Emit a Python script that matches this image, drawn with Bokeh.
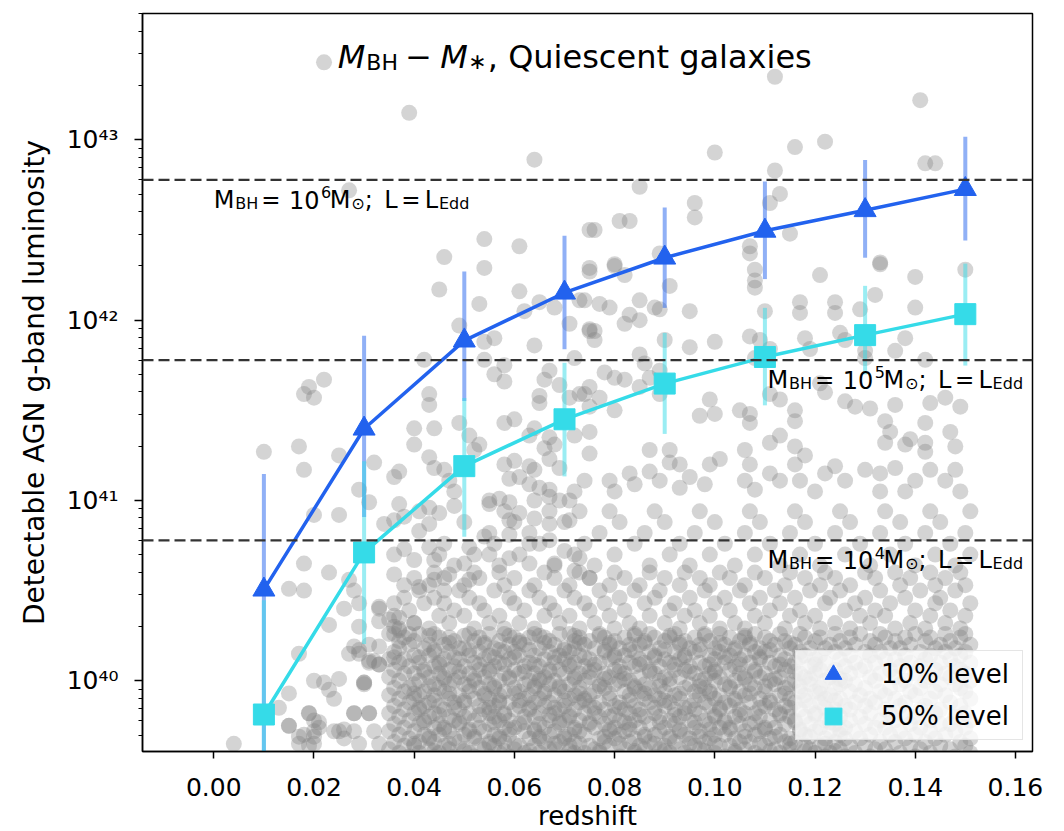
import numpy as np
from bokeh.plotting import figure
from bokeh.models import (Range1d, FixedTicker, NumeralTickFormatter, Span, Label,
                          Legend, LegendItem, ColumnDataSource)
from bokeh.embed import file_html
from bokeh.resources import INLINE

FONT = "DejaVu Sans"

# ---------------- data ----------------
redshift_bins = [0.01, 0.03, 0.05, 0.07, 0.09, 0.11, 0.13, 0.15]
lum10 = [3.2e40, 2.5e41, 7.7e41, 1.42e42, 2.22e42, 3.13e42, 4.07e42, 5.33e42]
lum10_lo = [2.0e39, 8.1e40, 3.56e41, 6.9e41, 1.17e42, 1.69e42, 2.22e42, 2.77e42]
lum10_hi = [1.40e41, 8.2e41, 1.86e42, 2.94e42, 4.22e42, 5.87e42, 7.73e42, 1.04e43]
lum50 = [6.5e39, 5.15e40, 1.55e41, 2.82e41, 4.45e41, 6.25e41, 8.26e41, 1.08e42]
lum50_lo = [2.0e39, 1.6e40, 6.3e40, 1.36e41, 2.34e41, 3.37e41, 5.0e41, 5.6e41]
lum50_hi = [2.8e40, 1.65e41, 3.7e41, 5.8e41, 8.5e41, 1.17e42, 1.55e42, 2.06e42]
edd_lum = [6e42, 6e41, 6e40]
edd_mass_exp = ["6", "5", "4"]
x_ticks = [0.00, 0.02, 0.04, 0.06, 0.08, 0.10, 0.12, 0.14, 0.16]
y_ticks = [1e40, 1e41, 1e42, 1e43]
y_tick_labels = ["10⁴⁰", "10⁴¹", "10⁴²", "10⁴³"]

# galaxies read individually (redshift, log10 L)
sparse_pts = [
    (0.022, 43.43), (0.039, 43.15), (0.064, 42.89), (0.027, 42.72), (0.054, 42.45), (0.061, 42.41),
    (0.046, 42.35), (0.075, 42.50), (0.112, 43.35), (0.141, 43.22), (0.100, 42.93), (0.116, 42.96),
    (0.122, 42.99), (0.112, 42.83), (0.142, 42.87), (0.144, 42.87), (0.085, 42.74), (0.076, 42.50),
    (0.081, 42.55), (0.083, 42.55), (0.096, 42.65), (0.096, 42.57), (0.111, 42.65), (0.113, 42.70),
    (0.115, 42.48), (0.107, 42.41), (0.089, 42.37), (0.080, 42.31), (0.133, 42.32),
    (0.054, 42.29), (0.045, 42.17), (0.061, 42.16), (0.053, 42.09), (0.062, 42.05), (0.065, 42.10),
    (0.068, 42.07), (0.073, 42.11), (0.071, 41.98), (0.075, 41.94), (0.075, 42.27), (0.049, 41.97),
    (0.056, 41.90), (0.054, 41.88), (0.064, 41.86), (0.042, 41.78), (0.054, 41.78), (0.058, 41.75),
    (0.056, 41.70), (0.058, 41.66), (0.067, 41.72), (0.066, 41.67), (0.069, 41.64), (0.072, 41.79),
    (0.065, 41.58), (0.065, 41.54), (0.071, 41.57), (0.073, 41.59), (0.022, 41.67), (0.019, 41.63),
    (0.018, 41.59), (0.020, 41.57), (0.043, 41.59), (0.043, 41.53), (0.040, 41.40), (0.044, 41.40),
    (0.049, 41.43), (0.051, 41.36), (0.053, 41.31), (0.052, 41.28), (0.040, 41.31), (0.058, 41.43),
    (0.060, 41.45), (0.064, 41.40), (0.063, 41.36), (0.067, 41.35), (0.066, 41.29), (0.068, 41.31),
    (0.072, 41.36), (0.075, 41.38), (0.067, 41.23), (0.069, 41.18), (0.058, 41.20), (0.060, 41.22),
    (0.063, 41.19), (0.064, 41.17), (0.059, 41.12), (0.061, 41.13), (0.063, 41.09), (0.065, 41.07),
    (0.067, 41.06), (0.074, 41.11), (0.072, 41.05), (0.032, 41.21), (0.025, 41.25), (0.017, 41.30),
    (0.018, 41.17), (0.010, 41.27), (0.029, 41.06), (0.036, 41.13), (0.037, 41.16), (0.043, 41.24),
    (0.044, 41.18), (0.046, 41.17), (0.047, 41.11), (0.048, 41.05), (0.055, 41.00), (0.057, 41.01),
    (0.069, 41.00),
    (0.075, 42.29), (0.080, 42.30), (0.082, 42.25), (0.074, 42.11), (0.077, 42.09), (0.079, 42.07),
    (0.085, 42.11), (0.088, 42.07), (0.089, 42.06), (0.083, 42.03), (0.085, 42.00), (0.082, 41.98),
    (0.075, 41.95), (0.076, 41.89), (0.076, 41.94), (0.091, 42.19), (0.095, 42.05), (0.108, 42.28),
    (0.108, 42.22), (0.108, 42.18), (0.107, 42.37), (0.121, 42.25), (0.133, 42.31), (0.140, 42.24),
    (0.110, 42.05), (0.117, 42.10), (0.117, 42.04), (0.124, 42.10), (0.124, 42.04), (0.132, 42.14),
    (0.129, 42.06), (0.140, 42.07), (0.150, 42.28), (0.090, 41.89), (0.095, 41.85), (0.100, 41.88),
    (0.107, 41.91), (0.109, 41.89), (0.111, 41.84), (0.108, 41.79), (0.118, 41.90), (0.119, 41.84),
    (0.125, 41.93), (0.126, 41.89), (0.130, 41.83), (0.130, 41.79), (0.138, 41.90), (0.136, 41.83),
    (0.142, 41.78), (0.085, 41.81), (0.086, 41.76), (0.089, 41.72), (0.087, 41.68), (0.085, 41.63),
    (0.089, 41.59), (0.078, 41.71), (0.080, 41.68), (0.082, 41.67), (0.075, 41.63), (0.074, 41.59),
    (0.077, 41.57), (0.075, 41.52), (0.080, 41.50), (0.099, 41.56), (0.105, 41.50), (0.097, 41.47),
    (0.100, 41.48), (0.107, 41.48), (0.107, 41.43), (0.111, 41.59), (0.113, 41.56), (0.116, 41.50),
    (0.116, 41.44), (0.111, 41.32), (0.113, 41.36), (0.116, 41.30), (0.121, 41.65), (0.122, 41.60),
    (0.126, 41.55), (0.128, 41.52), (0.131, 41.51), (0.136, 41.53), (0.134, 41.44), (0.135, 41.38),
    (0.134, 41.32), (0.138, 41.31), (0.139, 41.34), (0.143, 41.54), (0.146, 41.57), (0.149, 41.52),
    (0.142, 41.43), (0.147, 41.38), (0.142, 41.32), (0.148, 41.30), (0.142, 41.27), (0.087, 41.28),
    (0.091, 41.28), (0.091, 41.21), (0.093, 41.20), (0.075, 41.26), (0.079, 41.11), (0.083, 41.15),
    (0.080, 41.05), (0.084, 41.09), (0.087, 41.16), (0.089, 41.11), (0.093, 41.07), (0.095, 41.13),
    (0.098, 41.09), (0.099, 41.20), (0.101, 41.23), (0.106, 41.28), (0.107, 41.20), (0.106, 41.11),
    (0.108, 41.06), (0.111, 41.15), (0.113, 41.11), (0.116, 41.20), (0.118, 41.25), (0.117, 41.11),
    (0.122, 41.15), (0.120, 41.05), (0.124, 41.19), (0.126, 41.11), (0.130, 41.17), (0.133, 41.15),
    (0.136, 41.18), (0.133, 41.05), (0.138, 41.05), (0.140, 41.11), (0.143, 41.17), (0.146, 41.11),
    (0.148, 41.17), (0.149, 41.05),
    (0.004, 39.65), (0.018, 40.65), (0.015, 40.51), (0.018, 40.50), (0.023, 40.60), (0.020, 40.92),
    (0.025, 40.92), (0.027, 40.56), (0.028, 40.50), (0.029, 40.43), (0.026, 40.40), (0.023, 40.31),
    (0.029, 40.30), (0.017, 40.15), (0.020, 40.00), (0.022, 39.99), (0.023, 39.95), (0.024, 39.90),
    (0.015, 39.93), (0.013, 39.85), (0.015, 39.75), (0.019, 39.82), (0.020, 39.78), (0.021, 39.74),
    (0.018, 39.70), (0.020, 39.65), (0.017, 39.65), (0.024, 39.72), (0.026, 39.68), (0.028, 39.82),
    (0.031, 39.82), (0.028, 39.72), (0.029, 39.65), (0.032, 39.72), (0.033, 39.65), (0.025, 40.01),
    (0.030, 39.99), (0.033, 40.09), (0.031, 40.10), (0.031, 40.99), (0.027, 40.15), (0.029, 40.17),
    (0.031, 40.20), (0.033, 40.19), (0.032, 40.11), (0.033, 40.41), (0.035, 40.34), (0.036, 40.30),
    (0.037, 40.28), (0.039, 40.26), (0.040, 40.32), (0.034, 40.87), (0.036, 40.89), (0.038, 40.91),
    (0.036, 40.59), (0.038, 40.53), (0.040, 40.57), (0.041, 40.52), (0.036, 40.70), (0.038, 40.73),
    (0.040, 40.67), (0.043, 40.74), (0.044, 40.67), (0.045, 40.70), (0.047, 40.59), (0.044, 40.56),
    (0.046, 40.50), (0.041, 40.83), (0.043, 40.87), (0.045, 40.93), (0.048, 40.97), (0.043, 40.96),
    (0.041, 40.94), (0.037, 40.98), (0.055, 40.98), (0.059, 40.99), (0.061, 40.93), (0.059, 40.89),
    (0.064, 41.00), (0.067, 41.02), (0.071, 41.00), (0.073, 40.94), (0.071, 40.89), (0.067, 40.87),
    (0.064, 40.90), (0.054, 40.80), (0.059, 40.81), (0.063, 40.76), (0.055, 40.70), (0.059, 40.68),
    (0.063, 40.65), (0.067, 40.78), (0.070, 40.72), (0.073, 40.68), (0.068, 40.65), (0.072, 40.61),
    (0.075, 40.57), (0.051, 40.74), (0.050, 40.65), (0.051, 40.56),
    (0.019, 39.64), (0.028, 40.19), (0.029, 40.15), (0.031, 40.11), (0.030, 39.99), (0.028, 39.82),
    (0.031, 39.82), (0.033, 40.40), (0.036, 40.43), (0.037, 40.35), (0.033, 40.33), (0.035, 40.26),
    (0.037, 40.22), (0.033, 40.09), (0.036, 40.13), (0.015, 39.75), (0.019, 39.82), (0.021, 39.77),
    (0.020, 39.72), (0.020, 39.69), (0.017, 39.69), (0.025, 39.72), (0.026, 39.73), (0.030, 39.98),
]

# crowded part of the cloud, estimated row by row: log10 L of each row and its redshifts (x 1/1000)
dense_logL = [40.94, 40.88, 40.82, 40.76, 40.70, 40.64,
              40.60, 40.57, 40.53, 40.50, 40.46, 40.43, 40.39, 40.36, 40.32, 40.29,
              40.26, 40.24, 40.22, 40.20, 40.18, 40.16, 40.14, 40.12, 40.10, 40.08, 40.06, 40.04,
              40.02, 40.00, 39.98, 39.96, 39.94, 39.92, 39.90, 39.88, 39.86, 39.84, 39.82, 39.80,
              39.78, 39.76, 39.74, 39.72, 39.70, 39.68, 39.66, 39.64, 39.62, 39.60, 39.58, 39.56]
dense_z_milli = [
    [58, 67, 79, 88, 97, 107, 116, 125, 134, 143, 151],
    [50, 60, 70, 81, 90, 100, 109, 118, 127, 137, 145],
    [55, 63, 77, 86, 96, 106, 115, 124, 133, 142, 150],
    [46, 56, 65, 74, 84, 93, 102, 111, 120, 129, 138, 147],
    [52, 61, 72, 80, 91, 99, 108, 117, 126, 135, 144, 151],
    [48, 57, 68, 76, 87, 95, 104, 113, 121, 131, 140, 148],
    [44, 52, 57, 66, 73, 80, 87, 94, 101, 108, 115, 122, 130, 136, 143, 149],
    [46, 53, 60, 68, 75, 82, 90, 97, 103, 110, 118, 124, 132, 139, 146],
    [43, 50, 58, 64, 71, 79, 85, 93, 99, 106, 114, 121, 127, 137, 144, 150],
    [41, 49, 56, 63, 70, 77, 84, 89, 98, 105, 112, 119, 125, 133, 141, 148],
    [38, 44, 51, 59, 65, 72, 81, 88, 95, 102, 109, 116, 123, 130, 138, 145],
    [42, 46, 53, 60, 67, 74, 78, 86, 92, 100, 107, 113, 122, 128, 135, 144, 151],
    [39, 48, 54, 62, 68, 75, 82, 91, 96, 103, 111, 117, 126, 132, 140, 147],
    [36, 45, 50, 57, 66, 71, 79, 87, 94, 99, 108, 115, 120, 129, 134, 143, 150],
    [40, 47, 55, 61, 69, 76, 83, 90, 97, 104, 110, 118, 124, 131, 139, 146],
    [37, 43, 52, 58, 64, 73, 80, 85, 93, 101, 106, 114, 121, 127, 136, 142, 149],
    [36, 41, 44, 51, 55, 58, 64, 69, 71, 77, 84, 87, 92, 98, 101, 108, 113, 117, 124, 129, 133, 140, 146, 150],
    [38, 45, 47, 53, 60, 63, 66, 73, 78, 82, 88, 91, 96, 103, 106, 110, 118, 121, 127, 134, 138, 143, 149],
    [40, 48, 52, 57, 61, 67, 72, 75, 80, 86, 90, 94, 99, 105, 111, 114, 120, 125, 131, 136, 142, 147],
    [39, 43, 46, 54, 59, 62, 68, 74, 79, 83, 85, 93, 97, 102, 107, 112, 116, 123, 128, 132, 139, 145, 151],
    [37, 42, 49, 50, 56, 65, 70, 72, 76, 81, 89, 95, 100, 104, 109, 115, 119, 122, 126, 135, 137, 144, 148],
    [36, 44, 47, 53, 58, 60, 67, 71, 78, 84, 87, 92, 96, 101, 108, 110, 117, 124, 130, 133, 141, 146, 150],
    [40, 43, 51, 55, 61, 64, 69, 73, 80, 82, 88, 94, 99, 103, 106, 113, 118, 121, 127, 131, 138, 143, 149],
    [35, 38, 46, 49, 54, 59, 66, 70, 75, 79, 85, 90, 93, 100, 105, 109, 114, 120, 125, 134, 136, 142, 147],
    [37, 41, 45, 52, 57, 63, 68, 72, 77, 83, 86, 91, 97, 102, 107, 111, 116, 122, 128, 132, 139, 145, 151],
    [39, 44, 48, 50, 56, 62, 65, 71, 74, 81, 84, 89, 95, 98, 104, 112, 115, 119, 126, 130, 137, 141, 148],
    [36, 42, 47, 53, 55, 60, 67, 69, 76, 80, 87, 92, 94, 100, 103, 108, 114, 121, 124, 129, 135, 144, 149],
    [38, 40, 45, 51, 58, 61, 64, 70, 73, 78, 82, 88, 96, 99, 105, 110, 117, 120, 127, 133, 140, 146, 150],
    [35, 43, 46, 49, 54, 59, 66, 72, 75, 79, 85, 90, 93, 101, 106, 109, 113, 118, 123, 131, 136, 143, 147],
    [37, 41, 48, 52, 57, 63, 65, 68, 74, 81, 83, 89, 97, 100, 104, 111, 116, 122, 126, 132, 138, 142, 151],
    [40, 44, 47, 50, 55, 62, 67, 71, 77, 80, 86, 91, 95, 102, 107, 112, 115, 119, 125, 128, 137, 145, 148],
    [36, 39, 45, 53, 56, 60, 64, 69, 73, 78, 84, 87, 94, 98, 103, 108, 114, 121, 124, 130, 135, 141, 149],
    [38, 42, 46, 51, 58, 61, 66, 70, 76, 82, 85, 90, 96, 99, 105, 110, 117, 120, 127, 133, 139, 144, 150],
    [35, 41, 44, 49, 54, 57, 63, 68, 72, 75, 83, 88, 92, 97, 101, 106, 113, 118, 123, 129, 134, 140, 146],
    [37, 40, 47, 52, 55, 62, 65, 71, 74, 79, 86, 89, 93, 100, 104, 109, 115, 122, 125, 131, 136, 143, 151],
    [39, 43, 48, 50, 57, 59, 64, 67, 73, 77, 81, 87, 91, 98, 102, 107, 111, 116, 121, 128, 132, 138, 147],
    [36, 42, 45, 53, 56, 61, 66, 70, 75, 80, 84, 90, 95, 99, 103, 110, 114, 119, 126, 130, 137, 142, 149],
    [38, 41, 46, 49, 54, 60, 63, 69, 72, 78, 82, 85, 92, 96, 101, 105, 112, 117, 124, 127, 134, 141, 145],
    [35, 40, 44, 51, 55, 58, 65, 68, 74, 76, 83, 88, 94, 97, 106, 108, 113, 120, 123, 131, 135, 144, 150],
    [37, 43, 47, 50, 56, 62, 64, 71, 77, 79, 86, 89, 93, 100, 104, 109, 115, 118, 125, 129, 138, 140, 148],
    [39, 42, 48, 52, 57, 59, 67, 70, 73, 81, 84, 91, 95, 98, 102, 111, 116, 122, 127, 133, 136, 143, 151],
    [36, 41, 45, 49, 55, 61, 65, 69, 75, 78, 83, 87, 92, 99, 105, 107, 114, 119, 124, 130, 139, 145, 147],
    [38, 44, 46, 53, 58, 60, 66, 72, 76, 80, 85, 90, 96, 101, 103, 110, 112, 121, 126, 132, 134, 141, 150],
    [35, 40, 47, 51, 54, 62, 64, 68, 73, 79, 82, 89, 93, 97, 106, 109, 117, 120, 123, 128, 137, 143, 148],
    [37, 42, 45, 50, 56, 59, 67, 71, 74, 81, 86, 88, 94, 100, 102, 108, 113, 118, 125, 131, 135, 140, 146],
    [39, 43, 48, 52, 57, 63, 65, 70, 77, 80, 84, 91, 95, 99, 104, 111, 115, 122, 126, 129, 138, 144, 151],
    [36, 41, 44, 49, 55, 58, 66, 69, 72, 78, 83, 87, 92, 98, 105, 107, 114, 116, 124, 133, 136, 142, 149],
    [38, 40, 46, 53, 56, 61, 64, 71, 75, 79, 85, 90, 96, 101, 103, 110, 118, 121, 127, 130, 139, 145, 150],
    [35, 43, 47, 50, 54, 60, 67, 68, 76, 82, 86, 89, 93, 97, 106, 112, 115, 119, 125, 132, 134, 141, 147],
    [37, 41, 45, 51, 57, 62, 65, 72, 74, 77, 84, 91, 94, 100, 104, 108, 113, 120, 123, 128, 137, 143, 151],
    [39, 44, 48, 52, 55, 59, 63, 70, 73, 81, 85, 88, 95, 99, 102, 109, 116, 122, 126, 131, 135, 140, 148],
    [36, 42, 46, 49, 56, 61, 66, 69, 75, 80, 83, 90, 92, 98, 105, 111, 114, 117, 124, 129, 138, 144, 150],
]

# second pass over the darkest core of the cloud (same format)
core_logL = [39.57, 39.61, 39.65, 39.69, 39.73, 39.77, 39.81, 39.85, 39.89,
             39.93, 39.97, 40.01, 40.05, 40.09, 40.13, 40.17, 40.21, 40.25]
core_z_milli = [
    [41, 48, 53, 61, 66, 74, 80, 87, 92, 101, 107, 114, 121],
    [44, 50, 58, 63, 71, 77, 84, 90, 98, 104, 111, 118, 124],
    [40, 47, 55, 60, 68, 73, 81, 88, 95, 100, 109, 115, 122],
    [43, 52, 57, 65, 70, 78, 86, 91, 97, 106, 112, 119],
    [46, 51, 59, 64, 72, 79, 83, 93, 99, 103, 110, 117, 125],
    [42, 49, 56, 62, 69, 75, 82, 89, 96, 102, 108, 116, 123],
    [45, 53, 58, 67, 71, 80, 85, 92, 100, 105, 113, 120],
    [41, 48, 55, 63, 68, 76, 81, 88, 94, 101, 109, 115, 122],
    [44, 50, 57, 61, 70, 74, 83, 90, 96, 104, 111, 118, 124],
    [40, 47, 54, 60, 66, 73, 79, 86, 93, 99, 107, 114, 121],
    [43, 51, 56, 64, 69, 77, 84, 89, 97, 103, 110, 117],
    [46, 52, 59, 65, 72, 78, 82, 91, 98, 106, 112, 119, 125],
    [42, 49, 55, 62, 67, 75, 81, 87, 95, 100, 108, 116],
    [45, 53, 58, 64, 71, 76, 85, 92, 99, 105, 113, 120],
    [41, 48, 56, 60, 68, 74, 80, 88, 94, 102, 109, 117],
    [44, 51, 57, 63, 70, 78, 83, 90, 97, 104, 111],
    [47, 54, 61, 66, 73, 79, 86, 93, 101, 107, 115],
    [43, 50, 59, 65, 72, 77, 84, 91, 98, 106],
]

# ---------------- assemble ----------------
gal_z = [z for z, _ in sparse_pts]
gal_logL = [l for _, l in sparse_pts]
for lgs, rows in ((dense_logL, dense_z_milli), (core_logL, core_z_milli)):
    for lg, row in zip(lgs, rows):
        for zm in row:
            gal_z.append(zm / 1000.0)
            gal_logL.append(lg)
gal_L = [10 ** v for v in gal_logL]

BLUE = "#2262ee"
CYAN = "#35dbe8"
X0, X1 = -0.01423, 0.16341
Y0, Y1 = 10 ** 39.6077, 10 ** 43.7009

p = figure(frame_width=890, frame_height=738,
           x_range=Range1d(X0, X1), y_range=Range1d(Y0, Y1),
           y_axis_type="log", output_backend="svg", toolbar_location=None,
           min_border_left=142, min_border_right=24, min_border_top=13, min_border_bottom=80,
           background_fill_color="white", border_fill_color="white")
p.grid.visible = False
p.outline_line_color = "black"
p.outline_line_width = 1.5

# scatter of galaxies
p.scatter(x=gal_z, y=gal_L, size=16, marker="circle", fill_color="gray",
          fill_alpha=0.34, line_color=None)

src10 = ColumnDataSource(dict(x=redshift_bins, y=lum10, lo=lum10_lo, hi=lum10_hi))
src50 = ColumnDataSource(dict(x=redshift_bins, y=lum50, lo=lum50_lo, hi=lum50_hi))

p.segment(x0="x", y0="lo", x1="x", y1="hi", source=src10, line_color=BLUE,
          line_alpha=0.5, line_width=4)
p.line(x="x", y="y", source=src10, line_color=BLUE, line_width=3.5)
tri = p.scatter(x="x", y="y", source=src10, marker="triangle", size=22,
                fill_color=BLUE, line_color=BLUE)

p.segment(x0="x", y0="lo", x1="x", y1="hi", source=src50, line_color=CYAN,
          line_alpha=0.5, line_width=4)
p.line(x="x", y="y", source=src50, line_color=CYAN, line_width=3.5)
sq = p.scatter(x="x", y="y", source=src50, marker="square", size=21,
               fill_color=CYAN, line_color=CYAN)

# Eddington reference lines
for lv in edd_lum:
    p.add_layout(Span(location=lv, dimension="width", line_color="#333333",
                      line_width=2.2, line_dash="11 5"))


def piece(text, x, y, dx, dy, size, style="normal"):
    p.add_layout(Label(x=x, y=y, x_offset=dx, y_offset=dy, text=text,
                       text_font=FONT, text_font_size=f"{size}px",
                       text_font_style=style, text_color="black",
                       text_align="left", text_baseline="alphabetic"))


# annotations of the reference lines
ann_x = [0.0, 0.1105, 0.1105]
for lv, ex, ax in zip(edd_lum, edd_mass_exp, ann_x):
    base = -19.8
    sub = base - 3.4
    sup = base + 7.5
    piece("M", ax, lv, 0, base, 24)
    piece("BH", ax, lv, 21.5, sub, 16)
    piece("=", ax, lv, 47.5, base, 23)
    piece("10", ax, lv, 75.3, base, 24)
    piece(ex, ax, lv, 107.3, sup, 16)
    piece("M", ax, lv, 116, base, 24)
    piece("⊙", ax, lv, 137.5, sub, 16)
    piece(";", ax, lv, 151, base, 24)
    piece("L", ax, lv, 170.5, base, 24)
    piece("=", ax, lv, 187.5, base, 23)
    piece("L", ax, lv, 211, base, 24)
    piece("Edd", ax, lv, 225.2, sub, 16)

# title inside the axes
tx, ty = 0.0, 10 ** 43.4
piece("M", tx, ty, 124.0, 11, 32, "italic")
piece("BH", tx, ty, 152.5, 5, 22)
piece("−", tx, ty, 191.5, 11, 32)
piece("M", tx, ty, 226.5, 11, 32, "italic")
piece("∗", tx, ty, 254.5, 6, 22)
piece(", Quiescent galaxies", tx, ty, 274.0, 11, 32)

# axes
xa = p.xaxis[0]
xa.ticker = FixedTicker(ticks=x_ticks)
xa.formatter = NumeralTickFormatter(format="0.00")
xa.axis_label = "redshift"
ya = p.yaxis[0]
minor = [m * 10.0 ** k for k in range(39, 44) for m in range(2, 10)]
ya.ticker = FixedTicker(ticks=y_ticks, minor_ticks=minor)
ya.major_label_overrides = {t: s for t, s in zip(y_ticks, y_tick_labels)}
ya.axis_label = "Detectable AGN g-band luminosity"

for ax in (xa, ya):
    ax.axis_line_color = "black"
    ax.axis_line_width = 1.5
    ax.major_tick_line_color = "black"
    ax.major_tick_line_width = 1.5
    ax.major_tick_in = 0
    ax.minor_tick_in = 0
    ax.major_label_text_font = FONT
    ax.major_label_text_font_size = "25px"
    ax.major_label_text_color = "black"
    ax.axis_label_text_font = FONT
    ax.axis_label_text_font_style = "normal"
    ax.axis_label_text_color = "black"

xa.axis_label_text_font_size = "26px"
ya.axis_label_text_font_size = "28px"
xa.major_tick_out = 7
xa.minor_tick_line_color = None
xa.major_label_standoff = 19
xa.axis_label_standoff = 2
ya.major_tick_out = 8
ya.minor_tick_out = 4
ya.minor_tick_line_color = "black"
ya.minor_tick_line_width = 1.2
ya.major_label_standoff = 16
ya.axis_label_standoff = 13

legend = Legend(items=[LegendItem(label="10% level", renderers=[tri]),
                       LegendItem(label="50% level", renderers=[sq])],
                location=(653, 11), orientation="vertical",
                glyph_width=70, glyph_height=42, spacing=-5, padding=2,
                label_standoff=13, label_width=139,
                label_text_font=FONT, label_text_font_size="26px",
                label_text_color="black",
                border_line_color="#cccccc", border_line_width=1.2,
                background_fill_color="white", background_fill_alpha=0.8,
                margin=0)
p.add_layout(legend)

open("out.html", "w").write(file_html(p, INLINE))
